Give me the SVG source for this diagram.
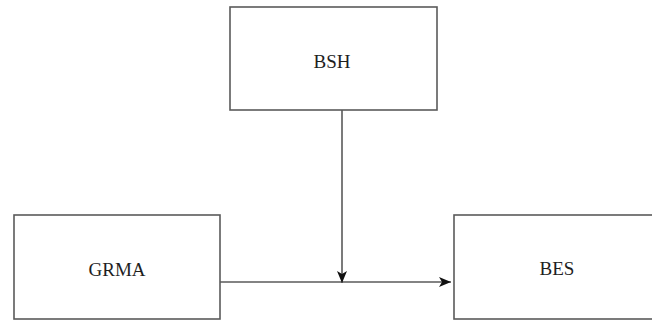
<svg xmlns="http://www.w3.org/2000/svg" width="652" height="320" viewBox="0 0 652 320">
  <style>
    .box { fill: #ffffff; stroke: #5a5a5a; stroke-width: 1.6; }
    .label { font-family: "Liberation Serif", "Times New Roman", serif; font-size: 19px; fill: #1e1e1e; text-anchor: middle; }
    .conn { fill: none; stroke: #5a5a5a; stroke-width: 1.6; }
  </style>
  <defs>
    <marker id="arrow" viewBox="0 0 12 12" refX="12" refY="6" markerWidth="12" markerHeight="12" markerUnits="userSpaceOnUse" orient="auto">
      <path d="M0,1 L12,6 L0,11 L3,6 Z" fill="#111111"/>
    </marker>
  </defs>
  <rect width="652" height="320" fill="#ffffff"/>

  <g id="bsh">
    <rect class="box" x="230" y="7" width="207" height="103"/>
    <text class="label" x="332" y="68">BSH</text>
  </g>
  <g id="grma">
    <rect class="box" x="14" y="215" width="206" height="104"/>
    <text class="label" x="117" y="276">GRMA</text>
  </g>
  <g id="bes">
    <rect class="box" x="454" y="215" width="210" height="104"/>
    <text class="label" x="557" y="275">BES</text>
  </g>

  <g id="connectors">
    <line class="conn" x1="220" y1="282" x2="451" y2="282" marker-end="url(#arrow)"/>
    <line class="conn" x1="342" y1="110" x2="342" y2="283" marker-end="url(#arrow)"/>
  </g>
</svg>
